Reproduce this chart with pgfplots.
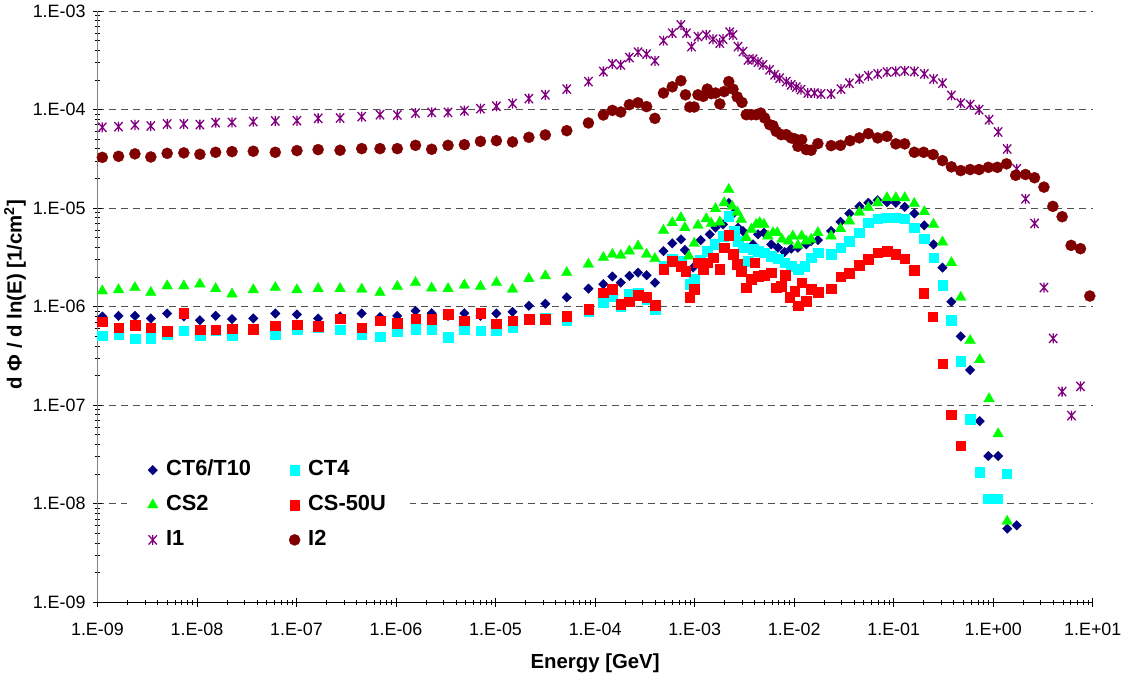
\documentclass[border=0pt]{standalone}
\usepackage{fontspec}
\setmainfont{Liberation Sans}
\usepackage{pgfplots}
\pgfplotsset{compat=1.18}
\definecolor{cNavy}{RGB}{0,0,128}
\definecolor{cCyan}{RGB}{0,255,255}
\definecolor{cGreen}{RGB}{0,255,0}
\definecolor{cRed}{RGB}{255,0,0}
\definecolor{cPurple}{RGB}{128,0,128}
\definecolor{cMaroon}{RGB}{128,0,0}
\definecolor{cGrid}{RGB}{80,80,80}
\pgfdeclareplotmark{rdiamond}{%
  \pgfpathmoveto{\pgfqpoint{0pt}{\pgfplotmarksize}}%
  \pgfpathlineto{\pgfqpoint{\pgfplotmarksize}{0pt}}%
  \pgfpathlineto{\pgfqpoint{0pt}{-\pgfplotmarksize}}%
  \pgfpathlineto{\pgfqpoint{-\pgfplotmarksize}{0pt}}%
  \pgfpathclose\pgfusepathqfillstroke}
\pgfdeclareplotmark{xstar}{%
  \pgfpathmoveto{\pgfqpoint{-0.9\pgfplotmarksize}{-\pgfplotmarksize}}%
  \pgfpathlineto{\pgfqpoint{0.9\pgfplotmarksize}{\pgfplotmarksize}}%
  \pgfpathmoveto{\pgfqpoint{-0.9\pgfplotmarksize}{\pgfplotmarksize}}%
  \pgfpathlineto{\pgfqpoint{0.9\pgfplotmarksize}{-\pgfplotmarksize}}%
  \pgfpathmoveto{\pgfqpoint{0pt}{-1.1\pgfplotmarksize}}%
  \pgfpathlineto{\pgfqpoint{0pt}{1.1\pgfplotmarksize}}%
  \pgfusepathqstroke}
\pgfplotsset{onlymk/.style={only marks, legend image code/.code={\draw[##1] plot coordinates {(0bp,0bp)};}}}
\begin{document}
\begin{tikzpicture}
\useasboundingbox (-97.7bp,-73.2bp) rectangle (1027.3bp,603.8bp);
\begin{axis}[at={(0,0)}, anchor=south west, scale only axis,
  width=998bp, height=592.8bp,
  xmode=log, ymode=log,
  xmin=1e-9, xmax=10, ymin=1e-9, ymax=1e-3,
  clip=false,
  axis lines=left,
  x axis line style={-, black, line width=0.8bp},
  y axis line style={-, gray, line width=1.6bp},
  tick align=center,
  major tick length=9bp, minor tick length=5bp,
  tick style={black, line width=0.6bp},
  xtick={1e-9,1e-8,1e-7,1e-6,1e-5,1e-4,1e-3,1e-2,1e-1,1,10},
  xticklabels={1.E-09,1.E-08,1.E-07,1.E-06,1.E-05,1.E-04,1.E-03,1.E-02,1.E-01,1.E+00,1.E+01},
  ytick={1e-9,1e-8,1e-7,1e-6,1e-5,1e-4,1e-3},
  yticklabels={1.E-09,1.E-08,1.E-07,1.E-06,1.E-05,1.E-04,1.E-03},
  xticklabel style={font=\fontsize{18}{22}\selectfont, yshift=-13bp},
  yticklabel style={font=\fontsize{18}{22}\selectfont, xshift=-4bp},
  ymajorgrids,
  major grid style={cGrid, line width=0.8bp, dash pattern=on 7bp off 5bp},
  xlabel={Energy [GeV]},
  ylabel={d Φ / d ln(E) [1/cm\textsuperscript{2}]},
  xlabel style={font=\bfseries\fontsize{20.5}{24}\selectfont, at={(axis description cs:0.5,-0.1025)}, anchor=center},
  ylabel style={font=\bfseries\fontsize{20.5}{24}\selectfont, at={(axis description cs:-0.0829,0.52)}, anchor=center},
  legend columns=2,
  legend cell align=left,
  legend style={at={(axis description cs:0.03,0.255)}, anchor=north west, draw=none, fill=white,
    font=\bfseries\fontsize{22}{26}\selectfont, inner xsep=20bp, inner ysep=4bp, row sep=6bp,
    /tikz/every odd column/.append style={column sep=4bp},
    /tikz/every even column/.append style={column sep=34bp},
    nodes={inner sep=4bp, text height=16bp, text depth=5bp}},
]
% CT6/T10
\addplot[onlymk, mark=rdiamond, mark size=4.8bp, mark options={draw=cNavy, fill=cNavy, line width=0.3bp}] coordinates {
(1.12e-9,7.94e-7)(1.63e-9,8.05e-7)(2.38e-9,8.05e-7)(3.44e-9,7.58e-7)(5.02e-9,8.51e-7)(7.38e-9,7.94e-7)
(1.07e-8,7.28e-7)(1.54e-8,8.05e-7)(2.25e-8,7.45e-7)(3.68e-8,7.58e-7)(6.12e-8,8.51e-7)(1.01e-7,8.32e-7)
(1.65e-7,7.58e-7)(2.74e-7,7.94e-7)(4.52e-7,8.51e-7)(6.90e-7,7.8e-7)
(1.03e-6,8.05e-7)(1.57e-6,9.04e-7)(2.28e-6,8.57e-7)(3.33e-6,8.05e-7)(4.86e-6,8.57e-7)(7.05e-6,8.05e-7)
(1.02e-5,8.51e-7)(1.48e-5,8.84e-7)(2.16e-5,1.02e-6)(3.16e-5,1.07e-6)(5.19e-5,1.24e-6)(8.57e-5,1.52e-6)
(1.21e-4,1.69e-6)(1.49e-4,2.02e-6)(1.81e-4,1.75e-6)(2.21e-4,2.05e-6)(2.70e-4,2.21e-6)(3.29e-4,2.08e-6)
(3.99e-4,1.75e-6)(4.86e-4,3.66e-6)(5.96e-4,4.38e-6)(7.28e-4,4.81e-6)(7.98e-4,3.75e-6)(9.66e-4,2.49e-6)
(1.15e-3,4.73e-6)(1.42e-3,5.41e-6)(1.62e-3,6.32e-6)(1.93e-3,6.82e-6)(2.20e-3,1.13e-5)(2.49e-3,8.96e-6)
(2.73e-3,6.32e-6)(3.06e-3,5.84e-6)(3.38e-3,3.96e-6)(3.86e-3,4.28e-6)(4.33e-3,5.41e-6)(4.97e-3,5.62e-6)
(5.88e-3,4.28e-6)(6.87e-3,3.96e-6)(8.01e-3,3.58e-6)(9.33e-3,3.87e-6)(1.09e-2,3.96e-6)(1.32e-2,4.28e-6)
(1.48e-2,4.62e-6)(1.73e-2,4.73e-6)(2.35e-2,5.84e-6)(2.92e-2,7.26e-6)(3.59e-2,8.81e-6)(4.52e-2,1.04e-5)
(5.56e-2,1.13e-5)(6.90e-2,1.20e-5)(8.55e-2,1.15e-5)(1.05e-1,1.13e-5)(1.29e-1,1.03e-5)(1.61e-1,8.81e-6)
(2.03e-1,6.67e-6)(2.51e-1,4.28e-6)(3.09e-1,2.49e-6)(3.80e-1,1.12e-6)(4.71e-1,4.98e-7)(5.86e-1,2.27e-7)
(7.31e-1,6.87e-8)(8.93e-1,3.04e-8)(1.12,3.04e-8)(1.38,5.58e-9)(1.72,6.03e-9)
};
\addlegendentry{CT6/T10}
% CT4
\addplot[onlymk, mark=square*, mark size=4.8bp, mark options={draw=cCyan, fill=cCyan, line width=0.3bp}] coordinates {
(1.12e-9,5.05e-7)(1.63e-9,5.26e-7)(2.38e-9,4.75e-7)(3.44e-9,4.79e-7)(5.02e-9,5.26e-7)(7.38e-9,5.68e-7)
(1.07e-8,5.05e-7)(1.54e-8,5.68e-7)(2.25e-8,5.14e-7)(3.68e-8,6.0e-7)(6.12e-8,5.26e-7)(1.01e-7,5.90e-7)
(1.65e-7,6.14e-7)(2.74e-7,5.81e-7)(4.52e-7,5.26e-7)(6.90e-7,4.94e-7)
(1.03e-6,5.55e-7)(1.57e-6,5.90e-7)(2.28e-6,5.81e-7)(3.33e-6,4.87e-7)(4.86e-6,5.90e-7)(7.05e-6,5.68e-7)
(1.02e-5,5.77e-7)(1.48e-5,6.14e-7)(2.16e-5,7.45e-7)(3.16e-5,7.76e-7)(5.19e-5,7.17e-7)(8.57e-5,9.04e-7)
(1.21e-4,1.10e-6)(1.49e-4,1.28e-6)(1.81e-4,1.0e-6)(2.21e-4,1.34e-6)(2.70e-4,1.39e-6)(3.29e-4,1.19e-6)
(3.99e-4,9.42e-7)(4.86e-4,2.58e-6)(5.96e-4,3.05e-6)(7.28e-4,2.9e-6)(8.95e-4,1.69e-6)(9.89e-4,1.89e-6)
(1.13e-3,3.0e-6)(1.34e-3,3.66e-6)(1.59e-3,4.28e-6)(1.93e-3,5.20e-6)(2.20e-3,8.28e-6)(2.49e-3,5.84e-6)
(2.73e-3,4.62e-6)(3.06e-3,3.96e-6)(3.44e-3,2.90e-6)(3.86e-3,3.81e-6)(4.33e-3,3.66e-6)(4.97e-3,3.53e-6)
(5.88e-3,3.26e-6)(6.87e-3,3.07e-6)(8.01e-3,2.79e-6)(9.33e-3,2.58e-6)(1.09e-2,2.39e-6)(1.27e-2,2.58e-6)
(1.48e-2,3.14e-6)(1.73e-2,3.53e-6)(2.35e-2,3.39e-6)(2.92e-2,3.96e-6)(3.59e-2,4.62e-6)(4.52e-2,5.62e-6)
(5.56e-2,7.10e-6)(6.90e-2,7.79e-6)(8.55e-2,7.98e-6)(1.05e-1,7.98e-6)(1.29e-1,7.79e-6)(1.61e-1,6.32e-6)
(2.03e-1,4.89e-6)(2.51e-1,3.14e-6)(3.09e-1,1.65e-6)(3.80e-1,7.33e-7)(4.71e-1,2.78e-7)(5.86e-1,7.25e-8)
(7.31e-1,2.09e-8)(8.93e-1,1.12e-8)(1.10,1.12e-8)(1.36,2.01e-8)
};
\addlegendentry{CT4}
% CS2
\addplot[onlymk, mark=triangle*, mark size=6.2bp, mark options={draw=cGreen, fill=cGreen, line width=0.3bp}] coordinates {
(1.12e-9,1.44e-6)(1.63e-9,1.48e-6)(2.38e-9,1.56e-6)(3.44e-9,1.39e-6)(5.02e-9,1.62e-6)(7.38e-9,1.62e-6)
(1.07e-8,1.69e-6)(1.54e-8,1.52e-6)(2.25e-8,1.34e-6)(3.68e-8,1.48e-6)(6.12e-8,1.56e-6)(1.01e-7,1.48e-6)
(1.65e-7,1.52e-6)(2.74e-7,1.52e-6)(4.52e-7,1.50e-6)(6.90e-7,1.39e-6)
(1.03e-6,1.60e-6)(1.57e-6,1.75e-6)(2.28e-6,1.54e-6)(3.33e-6,1.52e-6)(4.86e-6,1.65e-6)(7.05e-6,1.60e-6)
(1.02e-5,1.75e-6)(1.48e-5,1.50e-6)(2.16e-5,1.92e-6)(3.16e-5,2.05e-6)(5.19e-5,2.21e-6)(8.57e-5,2.69e-6)
(1.21e-4,3.14e-6)(1.49e-4,3.39e-6)(1.81e-4,3.31e-6)(2.21e-4,3.66e-6)(2.70e-4,4.11e-6)(3.29e-4,3.39e-6)
(3.99e-4,3.07e-6)(4.86e-4,5.93e-6)(5.96e-4,7.10e-6)(7.28e-4,7.98e-6)(7.98e-4,6.32e-6)(8.75e-4,3.26e-6)
(9.89e-4,4.38e-6)(1.08e-3,6.67e-6)(1.31e-3,7.79e-6)(1.47e-3,6.98e-6)(1.62e-3,9.84e-6)(1.79e-3,7.20e-6)
(1.98e-3,1.13e-5)(2.20e-3,1.54e-5)(2.38e-3,1.04e-5)(2.68e-3,9.08e-6)(2.94e-3,7.67e-6)(3.30e-3,5.0e-6)
(3.71e-3,6.07e-6)(4.16e-3,6.82e-6)(4.50e-3,7.10e-6)(4.97e-3,6.82e-6)(5.45e-3,5.20e-6)(6.12e-3,5.62e-6)
(6.76e-3,5.62e-6)(7.53e-3,4.81e-6)(8.79e-3,4.62e-6)(9.70e-3,5.20e-6)(1.09e-2,4.18e-6)(1.19e-2,5.20e-6)
(1.32e-2,4.62e-6)(1.48e-2,4.81e-6)(1.73e-2,5.62e-6)(2.35e-2,5.20e-6)(2.92e-2,6.17e-6)(3.59e-2,7.37e-6)
(4.52e-2,9.08e-6)(5.56e-2,1.01e-5)(6.90e-2,1.13e-5)(8.55e-2,1.27e-5)(1.05e-1,1.27e-5)(1.29e-1,1.27e-5)
(1.61e-1,1.11e-5)(2.03e-1,9.18e-6)(2.51e-1,6.82e-6)(3.09e-1,4.52e-6)(3.80e-1,2.79e-6)(4.71e-1,1.24e-6)
(5.86e-1,4.52e-7)(7.31e-1,2.89e-7)(9.08e-1,1.16e-7)(1.12,5.11e-8)(1.38,6.62e-9)
};
\addlegendentry{CS2}
% CS-50U
\addplot[onlymk, mark=square*, mark size=4.8bp, mark options={draw=cRed, fill=cRed, line width=0.3bp}] coordinates {
(1.12e-9,7.0e-7)(1.63e-9,6.14e-7)(2.38e-9,6.48e-7)(3.44e-9,6.14e-7)(5.02e-9,5.60e-7)(7.38e-9,8.57e-7)
(1.07e-8,5.81e-7)(1.54e-8,5.81e-7)(2.25e-8,6.0e-7)(3.68e-8,5.90e-7)(6.12e-8,6.38e-7)(1.01e-7,6.53e-7)
(1.65e-7,6.29e-7)(2.74e-7,7.58e-7)(4.52e-7,6.14e-7)(6.90e-7,7.17e-7)
(1.03e-6,6.79e-7)(1.57e-6,7.58e-7)(2.28e-6,7.45e-7)(3.33e-6,8.38e-7)(4.86e-6,7.17e-7)(7.05e-6,8.57e-7)
(1.02e-5,6.74e-7)(1.48e-5,7.17e-7)(2.16e-5,7.45e-7)(3.16e-5,7.45e-7)(5.19e-5,8.05e-7)(8.57e-5,9.42e-7)
(1.21e-4,1.39e-6)(1.49e-4,1.50e-6)(1.81e-4,1.06e-6)(2.21e-4,1.12e-6)(2.70e-4,1.30e-6)(3.29e-4,1.24e-6)
(3.99e-4,1.03e-6)(4.86e-4,2.39e-6)(5.96e-4,2.90e-6)(7.28e-4,2.58e-6)(8.09e-4,2.30e-6)(8.95e-4,1.24e-6)
(9.89e-4,1.50e-6)(1.08e-3,2.79e-6)(1.22e-3,2.39e-6)(1.34e-3,2.79e-6)(1.53e-3,3.14e-6)(1.79e-3,2.39e-6)
(1.98e-3,3.96e-6)(2.20e-3,5.28e-6)(2.43e-3,3.39e-6)(2.68e-3,2.69e-6)(2.94e-3,2.30e-6)(3.30e-3,1.56e-6)
(3.71e-3,1.89e-6)(4.01e-3,2.79e-6)(4.33e-3,2.05e-6)(4.97e-3,2.08e-6)(5.88e-3,2.21e-6)(6.60e-3,1.56e-6)
(7.41e-3,1.62e-6)(8.13e-3,2.08e-6)(8.99e-3,1.24e-6)(1.01e-2,1.44e-6)(1.09e-2,1.02e-6)(1.19e-2,1.75e-6)
(1.32e-2,1.14e-6)(1.48e-2,1.50e-6)(1.73e-2,1.41e-6)(2.35e-2,1.52e-6)(2.92e-2,2.02e-6)(3.59e-2,2.18e-6)
(4.52e-2,2.62e-6)(5.56e-2,3.02e-6)(6.90e-2,3.53e-6)(8.55e-2,3.66e-6)(1.05e-1,3.39e-6)(1.29e-1,3.07e-6)
(1.61e-1,2.35e-6)(2.0e-1,1.37e-6)(2.45e-1,7.94e-7)(3.09e-1,2.63e-7)(3.80e-1,8.01e-8)(4.71e-1,3.89e-8)
};
\addlegendentry{CS-50U}
% I1
\addplot[onlymk, mark=xstar, mark size=4.6bp, mark options={draw=cPurple, line width=1.3bp}] coordinates {
(1.12e-9,6.6e-5)(1.63e-9,6.70e-5)(2.38e-9,6.97e-5)(3.44e-9,6.81e-5)(5.02e-9,7.13e-5)(7.38e-9,7.13e-5)
(1.07e-8,7.02e-5)(1.54e-8,7.35e-5)(2.25e-8,7.40e-5)(3.68e-8,7.53e-5)(6.12e-8,7.65e-5)(1.01e-7,7.70e-5)
(1.65e-7,8.13e-5)(2.74e-7,8.20e-5)(4.52e-7,8.46e-5)(6.90e-7,8.86e-5)
(1.03e-6,8.8e-5)(1.57e-6,9.2e-5)(2.28e-6,9.35e-5)(3.33e-6,9.35e-5)(4.86e-6,9.72e-5)(7.05e-6,1.02e-4)
(1.02e-5,1.08e-4)(1.48e-5,1.15e-4)(2.16e-5,1.29e-4)(3.16e-5,1.41e-4)(5.19e-5,1.61e-4)(8.57e-5,1.92e-4)
(1.21e-4,2.43e-4)(1.49e-4,2.91e-4)(1.81e-4,2.84e-4)(2.21e-4,3.37e-4)(2.70e-4,3.82e-4)(3.29e-4,3.65e-4)
(3.99e-4,3.12e-4)(4.86e-4,5.0e-4)(5.96e-4,5.95e-4)(7.28e-4,7.21e-4)(8.28e-4,5.95e-4)(9.29e-4,4.35e-4)
(1.08e-3,5.50e-4)(1.31e-3,5.71e-4)(1.53e-3,5.17e-4)(1.79e-3,4.71e-4)(1.93e-3,5.17e-4)(2.25e-3,6.09e-4)
(2.43e-3,5.71e-4)(2.73e-3,4.35e-4)(3.06e-3,3.87e-4)(3.44e-3,3.19e-4)(3.86e-3,3.24e-4)(4.33e-3,3.03e-4)
(4.86e-3,2.84e-4)(5.67e-3,2.53e-4)(6.36e-3,2.25e-4)(7.14e-3,2.08e-4)(8.32e-3,1.92e-4)(9.33e-3,1.78e-4)
(1.05e-2,1.69e-4)(1.17e-2,1.59e-4)(1.37e-2,1.47e-4)(1.60e-2,1.47e-4)(1.86e-2,1.44e-4)(2.35e-2,1.44e-4)
(2.96e-2,1.61e-4)(3.59e-2,1.85e-4)(4.52e-2,2.05e-4)(5.56e-2,2.20e-4)(6.90e-2,2.30e-4)(8.55e-2,2.40e-4)
(1.05e-1,2.43e-4)(1.29e-1,2.47e-4)(1.61e-1,2.43e-4)(2.03e-1,2.30e-4)(2.51e-1,2.04e-4)(3.09e-1,1.85e-4)
(3.80e-1,1.39e-4)(4.71e-1,1.16e-4)(5.86e-1,1.12e-4)(7.21e-1,9.95e-5)(9.08e-1,7.88e-5)(1.12,5.92e-5)
(1.38,3.98e-5)(1.72,2.50e-5)(2.11,1.24e-5)(2.60,6.98e-6)(3.23,1.56e-6)(4.00,4.75e-7)
(4.92,1.37e-7)(6.11,7.83e-8)(7.52,1.55e-7)
};
\addlegendentry{I1}
% I2
\addplot[onlymk, mark=*, mark size=5.6bp, mark options={draw=cMaroon, fill=cMaroon, line width=0.3bp}] coordinates {
(1.12e-9,3.27e-5)(1.63e-9,3.35e-5)(2.38e-9,3.55e-5)(3.44e-9,3.30e-5)(5.02e-9,3.59e-5)(7.38e-9,3.63e-5)
(1.07e-8,3.51e-5)(1.54e-8,3.68e-5)(2.25e-8,3.74e-5)(3.68e-8,3.77e-5)(6.12e-8,3.68e-5)(1.01e-7,3.83e-5)
(1.65e-7,3.92e-5)(2.74e-7,3.86e-5)(4.52e-7,4.01e-5)(6.90e-7,4.01e-5)
(1.03e-6,4.01e-5)(1.57e-6,4.33e-5)(2.28e-6,3.95e-5)(3.33e-6,4.33e-5)(4.86e-6,4.40e-5)(7.05e-6,4.75e-5)
(1.02e-5,4.83e-5)(1.48e-5,4.69e-5)(2.16e-5,5.22e-5)(3.16e-5,5.52e-5)(5.19e-5,6.10e-5)(8.57e-5,7.30e-5)
(1.21e-4,8.80e-5)(1.49e-4,9.79e-5)(1.81e-4,9.43e-5)(2.21e-4,1.12e-4)(2.70e-4,1.17e-4)(3.29e-4,1.07e-4)
(3.99e-4,8.13e-5)(4.86e-4,1.47e-4)(5.96e-4,1.70e-4)(7.28e-4,1.96e-4)(8.09e-4,1.41e-4)(8.95e-4,1.06e-4)
(9.89e-4,1.06e-4)(1.08e-3,1.41e-4)(1.22e-3,1.36e-4)(1.34e-3,1.61e-4)(1.47e-3,1.45e-4)(1.62e-3,1.47e-4)
(1.79e-3,1.14e-4)(1.98e-3,1.52e-4)(2.20e-3,1.92e-4)(2.43e-3,1.61e-4)(2.68e-3,1.34e-4)(2.99e-3,1.18e-4)
(3.30e-3,8.86e-5)(3.71e-3,8.86e-5)(4.16e-3,8.86e-5)(4.61e-3,9.2e-5)(5.05e-3,8.20e-5)(5.67e-3,7.02e-5)
(6.12e-3,6.85e-5)(6.60e-3,6.0e-5)(7.41e-3,5.56e-5)(8.32e-3,5.56e-5)(9.33e-3,5.15e-5)(1.02e-2,5.03e-5)
(1.09e-2,4.23e-5)(1.19e-2,4.95e-5)(1.32e-2,3.92e-5)(1.48e-2,3.86e-5)(1.73e-2,4.51e-5)(2.35e-2,4.30e-5)
(2.92e-2,4.33e-5)(3.64e-2,4.83e-5)(4.52e-2,5.15e-5)(5.56e-2,5.69e-5)(6.90e-2,5.15e-5)(8.55e-2,5.34e-5)
(1.05e-1,4.48e-5)(1.29e-1,4.48e-5)(1.61e-1,3.68e-5)(2.0e-1,3.68e-5)(2.49e-1,3.49e-5)(3.09e-1,3.03e-5)
(3.80e-1,2.62e-5)(4.71e-1,2.40e-5)(5.86e-1,2.46e-5)(7.21e-1,2.46e-5)(8.93e-1,2.59e-5)(1.10,2.59e-5)
(1.36,2.81e-5)(1.68,2.15e-5)(2.11,2.19e-5)(2.60,2.03e-5)(3.23,1.63e-5)(3.97,1.04e-5)
(4.92,8.17e-6)(6.06,4.18e-6)(7.52,3.87e-6)(9.33,1.28e-6)
};
\addlegendentry{I2}
\end{axis}
\end{tikzpicture}
\end{document}
